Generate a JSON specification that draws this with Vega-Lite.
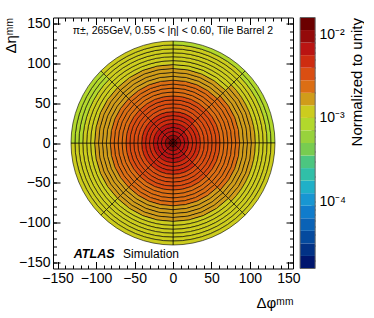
{
  "$schema": "https://vega.github.io/schema/vega-lite/v6.json",
  "background": "white",
  "padding": {"left": 3, "top": 15.5, "right": 0, "bottom": 0},
  "width": 240,
  "height": 251,
  "config": {
    "font": "Liberation Sans",
    "view": {"stroke": "#000", "strokeWidth": 1},
    "axis": {"labelColor": "#000", "titleColor": "#000", "tickColor": "#000", "labelFont": "Liberation Sans", "titleFont": "Liberation Sans", "titleFontWeight": "normal", "grid": false}
  },
  "datasets": {
    "cells": [
      {"a0":0,"a1":45,"r0":0,"r1":5,"v":0.0133},{"a0":0,"a1":45,"r0":5,"r1":10,"v":0.0092},{"a0":0,"a1":45,"r0":10,"r1":15,"v":0.0077},{"a0":0,"a1":45,"r0":15,"r1":20,"v":0.0067},{"a0":0,"a1":45,"r0":20,"r1":25,"v":0.0059},{"a0":0,"a1":45,"r0":25,"r1":30,"v":0.0054},{"a0":0,"a1":45,"r0":30,"r1":35,"v":0.0047},{"a0":0,"a1":45,"r0":35,"r1":40,"v":0.0042},{"a0":0,"a1":45,"r0":40,"r1":45,"v":0.0038},{"a0":0,"a1":45,"r0":45,"r1":50,"v":0.0034},{"a0":0,"a1":45,"r0":50,"r1":55,"v":0.0031},{"a0":0,"a1":45,"r0":55,"r1":60,"v":0.0029},{"a0":0,"a1":45,"r0":60,"r1":65,"v":0.0027},{"a0":0,"a1":45,"r0":65,"r1":70,"v":0.0025},{"a0":0,"a1":45,"r0":70,"r1":75,"v":0.0023},{"a0":0,"a1":45,"r0":75,"r1":80,"v":0.0021},{"a0":0,"a1":45,"r0":80,"r1":85,"v":0.0019},{"a0":0,"a1":45,"r0":85,"r1":90,"v":0.00175},{"a0":0,"a1":45,"r0":90,"r1":95,"v":0.00158},{"a0":0,"a1":45,"r0":95,"r1":100,"v":0.00139},{"a0":0,"a1":45,"r0":100,"r1":105,"v":0.00134},{"a0":0,"a1":45,"r0":105,"r1":110,"v":0.00126},{"a0":0,"a1":45,"r0":110,"r1":115,"v":0.00118},{"a0":0,"a1":45,"r0":115,"r1":120,"v":0.00111},{"a0":0,"a1":45,"r0":120,"r1":125,"v":0.00104},{"a0":0,"a1":45,"r0":125,"r1":130,"v":0.00096},
      {"a0":45,"a1":90,"r0":0,"r1":5,"v":0.0131},{"a0":45,"a1":90,"r0":5,"r1":10,"v":0.0093},{"a0":45,"a1":90,"r0":10,"r1":15,"v":0.0075},{"a0":45,"a1":90,"r0":15,"r1":20,"v":0.0064},{"a0":45,"a1":90,"r0":20,"r1":25,"v":0.0055},{"a0":45,"a1":90,"r0":25,"r1":30,"v":0.0049},{"a0":45,"a1":90,"r0":30,"r1":35,"v":0.0043},{"a0":45,"a1":90,"r0":35,"r1":40,"v":0.0039},{"a0":45,"a1":90,"r0":40,"r1":45,"v":0.0036},{"a0":45,"a1":90,"r0":45,"r1":50,"v":0.0033},{"a0":45,"a1":90,"r0":50,"r1":55,"v":0.0031},{"a0":45,"a1":90,"r0":55,"r1":60,"v":0.0029},{"a0":45,"a1":90,"r0":60,"r1":65,"v":0.0027},{"a0":45,"a1":90,"r0":65,"r1":70,"v":0.00255},{"a0":45,"a1":90,"r0":70,"r1":75,"v":0.0024},{"a0":45,"a1":90,"r0":75,"r1":80,"v":0.00223},{"a0":45,"a1":90,"r0":80,"r1":85,"v":0.00205},{"a0":45,"a1":90,"r0":85,"r1":90,"v":0.00188},{"a0":45,"a1":90,"r0":90,"r1":95,"v":0.00172},{"a0":45,"a1":90,"r0":95,"r1":100,"v":0.00158},{"a0":45,"a1":90,"r0":100,"r1":105,"v":0.00146},{"a0":45,"a1":90,"r0":105,"r1":110,"v":0.00134},{"a0":45,"a1":90,"r0":110,"r1":115,"v":0.00122},{"a0":45,"a1":90,"r0":115,"r1":120,"v":0.00109},{"a0":45,"a1":90,"r0":120,"r1":125,"v":0.00097},{"a0":45,"a1":90,"r0":125,"r1":130,"v":0.00088},
      {"a0":90,"a1":135,"r0":0,"r1":5,"v":0.0132},{"a0":90,"a1":135,"r0":5,"r1":10,"v":0.0094},{"a0":90,"a1":135,"r0":10,"r1":15,"v":0.0074},{"a0":90,"a1":135,"r0":15,"r1":20,"v":0.0063},{"a0":90,"a1":135,"r0":20,"r1":25,"v":0.0055},{"a0":90,"a1":135,"r0":25,"r1":30,"v":0.0049},{"a0":90,"a1":135,"r0":30,"r1":35,"v":0.0043},{"a0":90,"a1":135,"r0":35,"r1":40,"v":0.0039},{"a0":90,"a1":135,"r0":40,"r1":45,"v":0.0036},{"a0":90,"a1":135,"r0":45,"r1":50,"v":0.0033},{"a0":90,"a1":135,"r0":50,"r1":55,"v":0.0031},{"a0":90,"a1":135,"r0":55,"r1":60,"v":0.0029},{"a0":90,"a1":135,"r0":60,"r1":65,"v":0.0027},{"a0":90,"a1":135,"r0":65,"r1":70,"v":0.0025},{"a0":90,"a1":135,"r0":70,"r1":75,"v":0.0024},{"a0":90,"a1":135,"r0":75,"r1":80,"v":0.0022},{"a0":90,"a1":135,"r0":80,"r1":85,"v":0.00203},{"a0":90,"a1":135,"r0":85,"r1":90,"v":0.00188},{"a0":90,"a1":135,"r0":90,"r1":95,"v":0.00172},{"a0":90,"a1":135,"r0":95,"r1":100,"v":0.00157},{"a0":90,"a1":135,"r0":100,"r1":105,"v":0.00145},{"a0":90,"a1":135,"r0":105,"r1":110,"v":0.00134},{"a0":90,"a1":135,"r0":110,"r1":115,"v":0.00124},{"a0":90,"a1":135,"r0":115,"r1":120,"v":0.00116},{"a0":90,"a1":135,"r0":120,"r1":125,"v":0.00109},{"a0":90,"a1":135,"r0":125,"r1":130,"v":0.00103},
      {"a0":135,"a1":180,"r0":0,"r1":5,"v":0.0134},{"a0":135,"a1":180,"r0":5,"r1":10,"v":0.0093},{"a0":135,"a1":180,"r0":10,"r1":15,"v":0.0077},{"a0":135,"a1":180,"r0":15,"r1":20,"v":0.0068},{"a0":135,"a1":180,"r0":20,"r1":25,"v":0.0059},{"a0":135,"a1":180,"r0":25,"r1":30,"v":0.0054},{"a0":135,"a1":180,"r0":30,"r1":35,"v":0.0047},{"a0":135,"a1":180,"r0":35,"r1":40,"v":0.0042},{"a0":135,"a1":180,"r0":40,"r1":45,"v":0.0038},{"a0":135,"a1":180,"r0":45,"r1":50,"v":0.0034},{"a0":135,"a1":180,"r0":50,"r1":55,"v":0.0031},{"a0":135,"a1":180,"r0":55,"r1":60,"v":0.0029},{"a0":135,"a1":180,"r0":60,"r1":65,"v":0.0027},{"a0":135,"a1":180,"r0":65,"r1":70,"v":0.0025},{"a0":135,"a1":180,"r0":70,"r1":75,"v":0.0023},{"a0":135,"a1":180,"r0":75,"r1":80,"v":0.0021},{"a0":135,"a1":180,"r0":80,"r1":85,"v":0.00192},{"a0":135,"a1":180,"r0":85,"r1":90,"v":0.00176},{"a0":135,"a1":180,"r0":90,"r1":95,"v":0.00161},{"a0":135,"a1":180,"r0":95,"r1":100,"v":0.00148},{"a0":135,"a1":180,"r0":100,"r1":105,"v":0.00137},{"a0":135,"a1":180,"r0":105,"r1":110,"v":0.00128},{"a0":135,"a1":180,"r0":110,"r1":115,"v":0.0012},{"a0":135,"a1":180,"r0":115,"r1":120,"v":0.00113},{"a0":135,"a1":180,"r0":120,"r1":125,"v":0.00107},{"a0":135,"a1":180,"r0":125,"r1":130,"v":0.00102},
      {"a0":180,"a1":225,"r0":0,"r1":5,"v":0.0132},{"a0":180,"a1":225,"r0":5,"r1":10,"v":0.0092},{"a0":180,"a1":225,"r0":10,"r1":15,"v":0.0076},{"a0":180,"a1":225,"r0":15,"r1":20,"v":0.0067},{"a0":180,"a1":225,"r0":20,"r1":25,"v":0.0058},{"a0":180,"a1":225,"r0":25,"r1":30,"v":0.0053},{"a0":180,"a1":225,"r0":30,"r1":35,"v":0.0047},{"a0":180,"a1":225,"r0":35,"r1":40,"v":0.0042},{"a0":180,"a1":225,"r0":40,"r1":45,"v":0.0038},{"a0":180,"a1":225,"r0":45,"r1":50,"v":0.0034},{"a0":180,"a1":225,"r0":50,"r1":55,"v":0.0031},{"a0":180,"a1":225,"r0":55,"r1":60,"v":0.0029},{"a0":180,"a1":225,"r0":60,"r1":65,"v":0.0027},{"a0":180,"a1":225,"r0":65,"r1":70,"v":0.0025},{"a0":180,"a1":225,"r0":70,"r1":75,"v":0.0023},{"a0":180,"a1":225,"r0":75,"r1":80,"v":0.0021},{"a0":180,"a1":225,"r0":80,"r1":85,"v":0.00191},{"a0":180,"a1":225,"r0":85,"r1":90,"v":0.00175},{"a0":180,"a1":225,"r0":90,"r1":95,"v":0.00161},{"a0":180,"a1":225,"r0":95,"r1":100,"v":0.00147},{"a0":180,"a1":225,"r0":100,"r1":105,"v":0.00136},{"a0":180,"a1":225,"r0":105,"r1":110,"v":0.00127},{"a0":180,"a1":225,"r0":110,"r1":115,"v":0.00119},{"a0":180,"a1":225,"r0":115,"r1":120,"v":0.00112},{"a0":180,"a1":225,"r0":120,"r1":125,"v":0.00106},{"a0":180,"a1":225,"r0":125,"r1":130,"v":0.00101},
      {"a0":225,"a1":270,"r0":0,"r1":5,"v":0.0133},{"a0":225,"a1":270,"r0":5,"r1":10,"v":0.0093},{"a0":225,"a1":270,"r0":10,"r1":15,"v":0.0077},{"a0":225,"a1":270,"r0":15,"r1":20,"v":0.0067},{"a0":225,"a1":270,"r0":20,"r1":25,"v":0.0058},{"a0":225,"a1":270,"r0":25,"r1":30,"v":0.0053},{"a0":225,"a1":270,"r0":30,"r1":35,"v":0.0047},{"a0":225,"a1":270,"r0":35,"r1":40,"v":0.0042},{"a0":225,"a1":270,"r0":40,"r1":45,"v":0.0038},{"a0":225,"a1":270,"r0":45,"r1":50,"v":0.0034},{"a0":225,"a1":270,"r0":50,"r1":55,"v":0.0031},{"a0":225,"a1":270,"r0":55,"r1":60,"v":0.0029},{"a0":225,"a1":270,"r0":60,"r1":65,"v":0.0027},{"a0":225,"a1":270,"r0":65,"r1":70,"v":0.0025},{"a0":225,"a1":270,"r0":70,"r1":75,"v":0.0023},{"a0":225,"a1":270,"r0":75,"r1":80,"v":0.0021},{"a0":225,"a1":270,"r0":80,"r1":85,"v":0.00193},{"a0":225,"a1":270,"r0":85,"r1":90,"v":0.00177},{"a0":225,"a1":270,"r0":90,"r1":95,"v":0.00162},{"a0":225,"a1":270,"r0":95,"r1":100,"v":0.00149},{"a0":225,"a1":270,"r0":100,"r1":105,"v":0.00138},{"a0":225,"a1":270,"r0":105,"r1":110,"v":0.00129},{"a0":225,"a1":270,"r0":110,"r1":115,"v":0.00121},{"a0":225,"a1":270,"r0":115,"r1":120,"v":0.00114},{"a0":225,"a1":270,"r0":120,"r1":125,"v":0.00108},{"a0":225,"a1":270,"r0":125,"r1":130,"v":0.00103},
      {"a0":270,"a1":315,"r0":0,"r1":5,"v":0.0132},{"a0":270,"a1":315,"r0":5,"r1":10,"v":0.0092},{"a0":270,"a1":315,"r0":10,"r1":15,"v":0.0076},{"a0":270,"a1":315,"r0":15,"r1":20,"v":0.0066},{"a0":270,"a1":315,"r0":20,"r1":25,"v":0.0058},{"a0":270,"a1":315,"r0":25,"r1":30,"v":0.0053},{"a0":270,"a1":315,"r0":30,"r1":35,"v":0.0047},{"a0":270,"a1":315,"r0":35,"r1":40,"v":0.0042},{"a0":270,"a1":315,"r0":40,"r1":45,"v":0.0038},{"a0":270,"a1":315,"r0":45,"r1":50,"v":0.0034},{"a0":270,"a1":315,"r0":50,"r1":55,"v":0.0031},{"a0":270,"a1":315,"r0":55,"r1":60,"v":0.0029},{"a0":270,"a1":315,"r0":60,"r1":65,"v":0.0027},{"a0":270,"a1":315,"r0":65,"r1":70,"v":0.0025},{"a0":270,"a1":315,"r0":70,"r1":75,"v":0.0023},{"a0":270,"a1":315,"r0":75,"r1":80,"v":0.0021},{"a0":270,"a1":315,"r0":80,"r1":85,"v":0.00192},{"a0":270,"a1":315,"r0":85,"r1":90,"v":0.00174},{"a0":270,"a1":315,"r0":90,"r1":95,"v":0.00158},{"a0":270,"a1":315,"r0":95,"r1":100,"v":0.00145},{"a0":270,"a1":315,"r0":100,"r1":105,"v":0.00133},{"a0":270,"a1":315,"r0":105,"r1":110,"v":0.00121},{"a0":270,"a1":315,"r0":110,"r1":115,"v":0.00108},{"a0":270,"a1":315,"r0":115,"r1":120,"v":0.00098},{"a0":270,"a1":315,"r0":120,"r1":125,"v":0.00091},{"a0":270,"a1":315,"r0":125,"r1":130,"v":0.00084},
      {"a0":315,"a1":360,"r0":0,"r1":5,"v":0.0133},{"a0":315,"a1":360,"r0":5,"r1":10,"v":0.0092},{"a0":315,"a1":360,"r0":10,"r1":15,"v":0.0077},{"a0":315,"a1":360,"r0":15,"r1":20,"v":0.0067},{"a0":315,"a1":360,"r0":20,"r1":25,"v":0.0059},{"a0":315,"a1":360,"r0":25,"r1":30,"v":0.0054},{"a0":315,"a1":360,"r0":30,"r1":35,"v":0.0047},{"a0":315,"a1":360,"r0":35,"r1":40,"v":0.0042},{"a0":315,"a1":360,"r0":40,"r1":45,"v":0.0038},{"a0":315,"a1":360,"r0":45,"r1":50,"v":0.0034},{"a0":315,"a1":360,"r0":50,"r1":55,"v":0.0031},{"a0":315,"a1":360,"r0":55,"r1":60,"v":0.0029},{"a0":315,"a1":360,"r0":60,"r1":65,"v":0.0027},{"a0":315,"a1":360,"r0":65,"r1":70,"v":0.0025},{"a0":315,"a1":360,"r0":70,"r1":75,"v":0.0023},{"a0":315,"a1":360,"r0":75,"r1":80,"v":0.0021},{"a0":315,"a1":360,"r0":80,"r1":85,"v":0.0019},{"a0":315,"a1":360,"r0":85,"r1":90,"v":0.00176},{"a0":315,"a1":360,"r0":90,"r1":95,"v":0.00162},{"a0":315,"a1":360,"r0":95,"r1":100,"v":0.00148},{"a0":315,"a1":360,"r0":100,"r1":105,"v":0.00137},{"a0":315,"a1":360,"r0":105,"r1":110,"v":0.00128},{"a0":315,"a1":360,"r0":110,"r1":115,"v":0.0012},{"a0":315,"a1":360,"r0":115,"r1":120,"v":0.00113},{"a0":315,"a1":360,"r0":120,"r1":125,"v":0.00107},{"a0":315,"a1":360,"r0":125,"r1":130,"v":0.00102}
    ],
    "bands": [
      {"lo":1.5849e-5,"hi":2.2387e-5,"v":1.8836e-5},{"lo":2.2387e-5,"hi":3.1623e-5,"v":2.6607e-5},{"lo":3.1623e-5,"hi":4.4668e-5,"v":3.7584e-5},{"lo":4.4668e-5,"hi":6.3096e-5,"v":5.3088e-5},{"lo":6.3096e-5,"hi":8.9125e-5,"v":7.4989e-5},{"lo":8.9125e-5,"hi":1.2589e-4,"v":1.0593e-4},{"lo":1.2589e-4,"hi":1.7783e-4,"v":1.4962e-4},{"lo":1.7783e-4,"hi":2.5119e-4,"v":2.1135e-4},{"lo":2.5119e-4,"hi":3.5481e-4,"v":2.9854e-4},{"lo":3.5481e-4,"hi":5.0119e-4,"v":4.2170e-4},{"lo":5.0119e-4,"hi":7.0795e-4,"v":5.9566e-4},{"lo":7.0795e-4,"hi":1.0e-3,"v":8.4140e-4},{"lo":1.0e-3,"hi":1.4125e-3,"v":1.1885e-3},{"lo":1.4125e-3,"hi":1.9953e-3,"v":1.6788e-3},{"lo":1.9953e-3,"hi":2.8184e-3,"v":2.3714e-3},{"lo":2.8184e-3,"hi":3.9811e-3,"v":3.3497e-3},{"lo":3.9811e-3,"hi":5.6234e-3,"v":4.7315e-3},{"lo":5.6234e-3,"hi":7.9433e-3,"v":6.6834e-3},{"lo":7.9433e-3,"hi":1.1220e-2,"v":9.4406e-3},{"lo":1.1220e-2,"hi":1.5849e-2,"v":1.3335e-2}
    ]
  },
  "layer": [
    {
      "data": {"name": "cells"},
      "mark": {"type": "arc", "stroke": "#000", "strokeWidth": 0.6},
      "encoding": {
        "x": {"datum": 0, "type": "quantitative", "scale": {"domain": [-156, 156], "nice": false, "zero": false},
          "axis": {"orient": "bottom", "values": [-150, -100, -50, 0, 50, 100, 150], "tickSize": -7, "domain": false, "labelFontSize": 14, "labelPadding": 10, "labelFlush": false, "title": "Δφᵐᵐ", "titleFontSize": 15, "titleAnchor": "end", "titleAlign": "right", "titleBaseline": "middle", "titleX": 240, "titleY": 34}},
        "y": {"datum": 0, "type": "quantitative", "scale": {"domain": [-157, 157], "nice": false, "zero": false},
          "axis": {"orient": "left", "values": [-150, -100, -50, 0, 50, 100, 150], "tickSize": -7, "domain": false, "labelFontSize": 14, "labelPadding": 10, "labelFlush": false, "title": "Δηᵐᵐ", "titleFontSize": 15, "titleAngle": 270, "titleAnchor": "end", "titleAlign": "right", "titleBaseline": "middle", "titleX": -43, "titleY": 0}},
        "theta": {"field": "a0", "type": "quantitative", "stack": null, "scale": {"domain": [0, 360], "range": [0, 6.283185307179586]}},
        "theta2": {"field": "a1"},
        "radius": {"field": "r1", "type": "quantitative", "scale": {"type": "linear", "domain": [0, 130], "range": [0, 102], "zero": true}},
        "radius2": {"field": "r0"},
        "color": {"field": "v", "type": "quantitative", "legend": null,
          "scale": {"type": "threshold", "domain": [2.2387e-5,3.1623e-5,4.4668e-5,6.3096e-5,8.9125e-5,1.2589e-4,1.7783e-4,2.5119e-4,3.5481e-4,5.0119e-4,7.0795e-4,1.0e-3,1.4125e-3,1.9953e-3,2.8184e-3,3.9811e-3,5.6234e-3,7.9433e-3,1.1220e-2],
            "range": ["#00166e","#023286","#054a9e","#0a62b6","#107ccc","#1896d2","#20b0c8","#30bfa8","#4cc680","#78cc50","#98d23c","#b2d82c","#cccc1e","#d09c1a","#dc6e14","#da4e12","#ce2c10","#ba1412","#940a0a","#6b0000"]}}
      }
    },
    {
      "data": {"values": [{"label": "π±, 265GeV, 0.55 < |η| < 0.60, Tile Barrel 2"}]},
      "mark": {"type": "text", "fontSize": 10.5, "align": "center", "baseline": "middle", "color": "#000"},
      "encoding": {
        "text": {"field": "label"},
        "x": {"datum": 0, "type": "quantitative", "axis": {"orient": "bottom", "values": [-150,-140,-130,-120,-110,-100,-90,-80,-70,-60,-50,-40,-30,-20,-10,0,10,20,30,40,50,60,70,80,90,100,110,120,130,140,150], "tickSize": -3.5, "labels": false, "domain": false, "title": null}},
        "y": {"datum": 140, "type": "quantitative", "scale": {"domain": [-157, 157], "nice": false, "zero": false}, "axis": {"orient": "left", "values": [-150,-140,-130,-120,-110,-100,-90,-80,-70,-60,-50,-40,-30,-20,-10,0,10,20,30,40,50,60,70,80,90,100,110,120,130,140,150], "tickSize": -3.5, "labels": false, "domain": false, "title": null}}
      }
    },
    {
      "data": {"values": [{"label": "ATLAS"}]},
      "mark": {"type": "text", "fontSize": 12.5, "fontStyle": "italic", "fontWeight": "bold", "align": "left", "baseline": "middle", "color": "#000"},
      "encoding": {
        "text": {"field": "label"},
        "x": {"datum": -129, "type": "quantitative", "axis": {"orient": "top", "values": [-150, -100, -50, 0, 50, 100, 150], "tickSize": -7, "labels": false, "domain": false, "title": null}},
        "y": {"datum": -139, "type": "quantitative", "scale": {"domain": [-157, 157], "nice": false, "zero": false}, "axis": {"orient": "right", "values": [-150, -100, -50, 0, 50, 100, 150], "tickSize": -7, "labels": false, "domain": false, "title": null}}
      }
    },
    {
      "data": {"values": [{"label": "Simulation"}]},
      "mark": {"type": "text", "fontSize": 12, "align": "left", "baseline": "middle", "color": "#000"},
      "encoding": {
        "text": {"field": "label"},
        "x": {"datum": -65, "type": "quantitative", "axis": {"orient": "top", "values": [-150,-140,-130,-120,-110,-100,-90,-80,-70,-60,-50,-40,-30,-20,-10,0,10,20,30,40,50,60,70,80,90,100,110,120,130,140,150], "tickSize": -3.5, "labels": false, "domain": false, "title": null}},
        "y": {"datum": -139, "type": "quantitative", "scale": {"domain": [-157, 157], "nice": false, "zero": false}, "axis": {"orient": "right", "values": [-150,-140,-130,-120,-110,-100,-90,-80,-70,-60,-50,-40,-30,-20,-10,0,10,20,30,40,50,60,70,80,90,100,110,120,130,140,150], "tickSize": -3.5, "labels": false, "domain": false, "title": null}}
      }
    },
    {
      "data": {"name": "bands"},
      "mark": {"type": "rect"},
      "encoding": {
        "x": {"datum": 165.2, "type": "quantitative", "axis": null},
        "x2": {"datum": 184.8},
        "y": {"field": "hi", "type": "quantitative", "scale": {"type": "log", "domain": [1.5849e-5, 0.015849], "nice": false},
          "axis": {"orient": "right", "offset": 22, "values": [0.0001, 0.001, 0.01], "tickSize": -8, "domain": false, "labelPadding": 12, "labelFontSize": 14, "labelFlush": false, "labelExpr": "datum.value > 0.005 ? '10⁻²' : datum.value > 0.0005 ? '10⁻³' : '10⁻⁴'", "title": "Normalized to unity", "titleFontSize": 15, "titleAngle": 270, "titleAlign": "right", "titleBaseline": "middle", "titleX": 41, "titleY": 0}},
        "y2": {"field": "lo"},
        "color": {"field": "v", "type": "quantitative", "legend": null,
          "scale": {"type": "threshold", "domain": [2.2387e-5,3.1623e-5,4.4668e-5,6.3096e-5,8.9125e-5,1.2589e-4,1.7783e-4,2.5119e-4,3.5481e-4,5.0119e-4,7.0795e-4,1.0e-3,1.4125e-3,1.9953e-3,2.8184e-3,3.9811e-3,5.6234e-3,7.9433e-3,1.1220e-2],
            "range": ["#00166e","#023286","#054a9e","#0a62b6","#107ccc","#1896d2","#20b0c8","#30bfa8","#4cc680","#78cc50","#98d23c","#b2d82c","#cccc1e","#d09c1a","#dc6e14","#da4e12","#ce2c10","#ba1412","#940a0a","#6b0000"]}}
      }
    },
    {
      "data": {"name": "bands"},
      "mark": {"type": "rect", "opacity": 0},
      "encoding": {
        "x": {"datum": 165.2, "type": "quantitative", "axis": null},
        "x2": {"datum": 184.8},
        "y": {"field": "hi", "type": "quantitative", "scale": {"type": "log", "domain": [1.5849e-5, 0.015849], "nice": false},
          "axis": {"orient": "right", "offset": 22, "values": [2e-5,3e-5,4e-5,5e-5,6e-5,7e-5,8e-5,9e-5,2e-4,3e-4,4e-4,5e-4,6e-4,7e-4,8e-4,9e-4,2e-3,3e-3,4e-3,5e-3,6e-3,7e-3,8e-3,9e-3], "tickSize": -4, "labels": false, "domain": false, "title": null}},
        "y2": {"field": "lo"}
      }
    },
    {
      "data": {"values": [{"lo": 1.5849e-5, "hi": 0.015849}]},
      "mark": {"type": "rect", "fill": "transparent", "stroke": "#666", "strokeWidth": 1},
      "encoding": {
        "x": {"datum": 165.2, "type": "quantitative", "axis": null},
        "x2": {"datum": 184.8},
        "y": {"field": "hi", "type": "quantitative", "scale": {"type": "log", "domain": [1.5849e-5, 0.015849], "nice": false}, "axis": null},
        "y2": {"field": "lo"}
      }
    }
  ],
  "resolve": {"scale": {"y": "independent"}, "axis": {"x": "independent", "y": "independent"}}
}
